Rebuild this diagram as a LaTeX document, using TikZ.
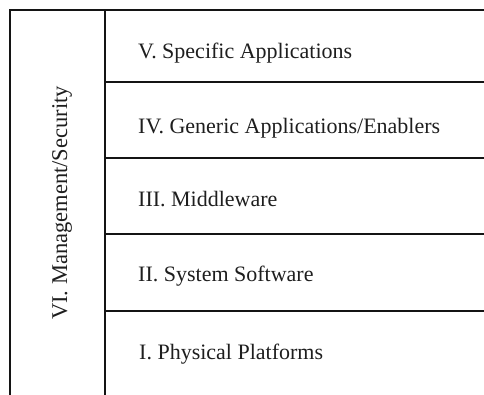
\documentclass[tikz,border=0pt]{standalone}
\usepackage{fontspec}
\setmainfont{Liberation Serif}
\usepackage{xcolor}
\usetikzlibrary{positioning}
\definecolor{rulecol}{RGB}{20,  20,  20}
\definecolor{labeltext}{RGB}{30,  30,  30}

\tikzset{
  layerrule/.style={rulecol, line width=1.8pt},
  layerlabel/.style={labeltext, anchor=base west, inner sep=0pt,
                     font=\fontsize{22}{24}\selectfont},
}

\begin{document}
\begin{tikzpicture}[x=1pt, y=1pt]
  \useasboundingbox (0,0) rectangle (484,395);
  % frame, open to the right and at the bottom
  \draw[layerrule, line width=2.1pt] (10,0) -- (10,385) -- (484,385);
  \draw[layerrule] (105,0) -- (105,385);
  % separators between the stacked layers
  \foreach \y in {313, 237, 161, 84}
    \draw[layerrule] (105,\y) -- (484,\y);
  % layer names, top to bottom
  \node[layerlabel] (specific)   at (138,336) {V. Specific Applications};
  \node[layerlabel] (generic)    at (138,261) {IV. Generic Applications/Enablers};
  \node[layerlabel] (middleware) at (138,188) {III. Middleware};
  \node[layerlabel] (syssoft)    at (138,113) {II. System Software};
  \node[layerlabel] (platforms)  at (139,35)  {I. Physical Platforms};
  % management column spanning all layers
  \node[labeltext, rotate=90, inner sep=0pt,
        font=\fontsize{22.5}{24}\selectfont] (mgmt) at (62,192)
       {VI. Management/Security};
\end{tikzpicture}
\end{document}
